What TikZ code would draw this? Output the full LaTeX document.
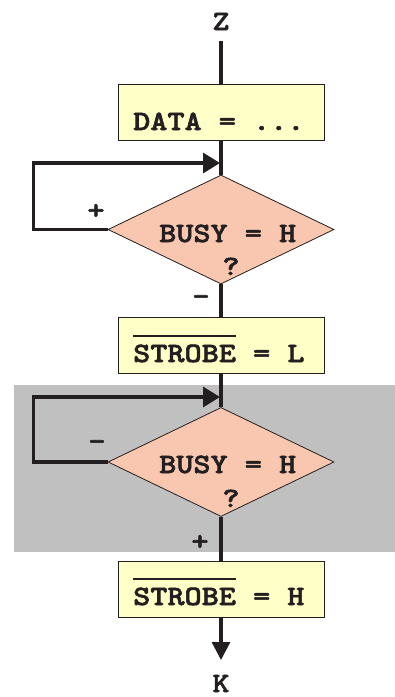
\documentclass[tikz,border=0pt]{standalone}
\usepackage{fontspec}
\newfontfamily\cour{lmmonolt10-bold}[Extension=.otf, FakeStretch=1.165, FakeBold=2]
\usetikzlibrary{shapes.geometric,arrows.meta}
\definecolor{ink}{HTML}{231F20}
\definecolor{boxfill}{HTML}{FFFFC8}
\definecolor{diafill}{HTML}{F9C7B0}
\definecolor{greybg}{HTML}{C0C0C0}
\newcommand{\ovbar}[1]{\setbox0\hbox{#1}\rlap{\raisebox{25pt}{\rule{\wd0}{2pt}}}\box0\relax}
\begin{document}
\begin{tikzpicture}[x=1pt,y=-1pt,
  every node/.style={font=\cour\fontsize{28}{30}\selectfont, text=ink},
  procbox/.style={draw=ink, line width=1pt, fill=boxfill, minimum width=206pt, minimum height=56pt, inner sep=0pt},
  decision/.style={diamond, draw=ink, line width=0.8pt, fill=diafill, minimum width=226pt, minimum height=109pt, aspect=2.07, inner sep=0pt},
  flow/.style={draw=ink, line width=3.2pt},
  txt/.style={anchor=base west, inner sep=0pt},
  ctxt/.style={anchor=base, inner sep=0pt},
  bigtip/.style={-{Triangle[length=17pt,width=20pt]}}
]
\useasboundingbox (0,0) rectangle (395,697);
\fill[greybg] (14,385) rectangle (395,552);

\node[procbox] (b1) at (221,112) {};
\node[decision] (d1) at (221,229.5) {};
\node[procbox] (b2) at (221,345.5) {};
\node[decision] (d2) at (221,462) {};
\node[procbox] (b3) at (221,589.5) {};

\node[ctxt] (z) at (221,30) {Z};
\node[ctxt] (k) at (221,692) {K};
\node[txt] (t1) at (133,130) {DATA = ...};
\node[txt] (t2) at (133,362) {\ovbar{STROBE} = L};
\node[txt] (t3) at (133,605) {\ovbar{STROBE} = H};
\node[txt] (q1a) at (159,242) {BUSY = H};
\node[ctxt] (q1b) at (231,275) {?};
\node[txt] (q2a) at (159,473) {BUSY = H};
\node[ctxt] (q2b) at (231,507) {?};

\node[ctxt] (p1) at (96,219) {+};
\node[ctxt] (m1) at (201,305) {-};
\node[ctxt] (m2) at (97,450) {-};
\node[ctxt] (p2) at (200,550) {+};

\coordinate (zs) at (221,41);
\coordinate (j1) at (220,163);
\coordinate (j2) at (220,397);
\coordinate (kt) at (221,660);

\draw[flow] (zs) -- (b1.north);
\draw[flow] (b1.south) -- (d1.north);
\draw[flow,bigtip] (d1.west) -- ++(-74,0) |- (j1);
\draw[flow] (d1.south) -- (b2.north);
\draw[flow] (b2.south) -- (d2.north);
\draw[flow,bigtip] (d2.west) -- ++(-74,0) |- (j2);
\draw[flow] (d2.south) -- (b3.north);
\draw[flow,-{Triangle[length=18pt,width=18pt]}] (b3.south) -- (kt);
\end{tikzpicture}
\end{document}
